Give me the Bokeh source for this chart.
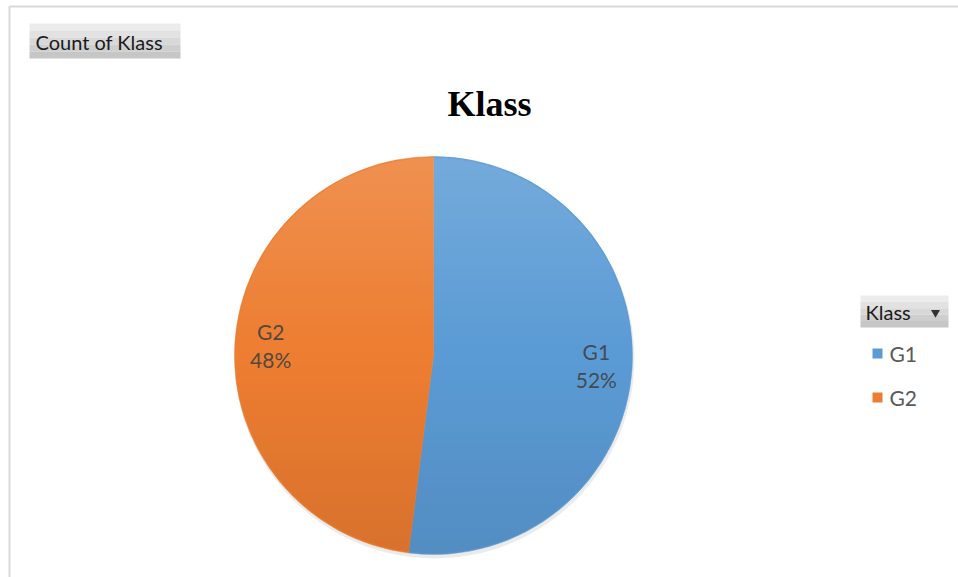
import numpy as np
from bokeh.plotting import figure
from bokeh.models import Range1d
from bokeh.core.properties import value
from bokeh.embed import file_html
from bokeh.resources import INLINE

# ---- data ----
categories = ["G1", "G2"]
shares = [52, 48]            # percent of Count of Klass
colors = ["#5B9BD5", "#ED7D31"]
title_text = "Klass"
field_button = "Count of Klass"
legend_title = "Klass"

W, H = 958, 577
p = figure(width=W, height=H, output_backend="svg", toolbar_location=None,
           x_range=Range1d(0, W), y_range=Range1d(0, H),
           min_border=0, outline_line_color=None)
p.axis.visible = False
p.grid.visible = False
p.background_fill_color = "white"
p.border_fill_color = "white"

def Y(py):
    return H - py

# chart area border (top & left visible)
p.quad(left=[9], right=[W + 20], top=[Y(6)], bottom=[-20],
       fill_color=None, line_color="#d9d9d9", line_width=2)

def button(l, r, t, b):
    steps = ["#ececec", "#e2e2e2", "#d8d8d8", "#cecece", "#c6c6c6"]
    h = (b - t) / len(steps)
    tops = [Y(t + i * h) for i in range(len(steps))]
    bots = [Y(t + (i + 1) * h) for i in range(len(steps))]
    p.quad(left=l, right=r, top=tops, bottom=bots, fill_color=steps, line_color=None)

# "Count of Klass" field button
button(29, 180, 23, 58)
p.text(x=[35], y=[Y(41)], text=[field_button], text_font=value("Lato"),
       text_font_size="20px", text_baseline="middle", text_align="left",
       text_color="#1a1a1a")

# title
p.text(x=[489], y=[Y(103)], text=[title_text], text_font=value("Liberation Serif"),
       text_font_style="bold", text_font_size="36px", text_baseline="middle",
       text_align="center", text_color="#000000")

# pie
cx, cy, R = 433, Y(355), 199
fr = np.array(shares, dtype=float) / sum(shares)
ends = np.pi / 2 - 2 * np.pi * np.cumsum(fr)
starts = np.concatenate([[np.pi / 2], ends[:-1]])

# soft shadow
p.circle(x=[cx + 1], y=[cy - 3], radius=R + 1, fill_color="#000000",
         fill_alpha=0.08, line_color=None)
p.wedge(x=cx, y=cy, radius=R, start_angle=starts, end_angle=ends,
        direction="clock", fill_color=colors, line_color=colors, line_width=0.5)

# vertical shading overlay (lighter top, darker bottom)
n = 2 * R
yy, xx = np.mgrid[0:n, 0:n]
dx = xx - R + 0.5
dy = yy - R + 0.5
inside = (dx ** 2 + dy ** 2) <= (R - 1) ** 2
t = 1 - yy / (n - 1)           # 0 at top, 1 at bottom (row 0 is bottom)
img = np.zeros((n, n, 4), dtype=np.uint8)
white = t < 0.5
a_white = np.clip(0.16 * (1 - 2 * t), 0, 1)
a_black = np.clip(0.09 * (2 * t - 1), 0, 1)
img[..., 0] = np.where(white, 255, 0)
img[..., 1] = np.where(white, 255, 0)
img[..., 2] = np.where(white, 255, 0)
img[..., 3] = (np.where(white, a_white, a_black) * 255 * inside).astype(np.uint8)
rgba = img.view(dtype=np.uint32).reshape((n, n))
p.image_rgba(image=[rgba], x=cx - R, y=cy - R, dw=n, dh=n)

# data labels
mids = (starts + ends) / 2
lr = 0.82 * R
lx = cx + lr * np.cos(mids)
ly = cy + lr * np.sin(mids)
p.text(x=lx, y=ly + 14, text=categories, text_font=value("Lato"),
       text_font_size="21px", text_baseline="middle", text_align="center",
       text_color="#404040", text_alpha=0.9)
p.text(x=lx, y=ly - 14, text=[f"{s}%" for s in shares], text_font=value("Lato"),
       text_font_size="21px", text_baseline="middle", text_align="center",
       text_color="#404040", text_alpha=0.9)

# legend field button
button(860, 948, 295, 327)
p.text(x=[865], y=[Y(311)], text=[legend_title], text_font=value("Lato"),
       text_font_size="20px", text_baseline="middle", text_align="left",
       text_color="#1a1a1a")
p.scatter(x=[935], y=[Y(312)], marker="inverted_triangle", size=9,
          fill_color="#333333", line_color=None)

# legend entries
ly_leg = [Y(353), Y(397)]
p.scatter(x=[877] * len(categories), y=ly_leg, marker="square", size=10,
          fill_color=colors, line_color=None)
p.text(x=[889] * len(categories), y=ly_leg, text=categories, text_font=value("Lato"),
       text_font_size="21px", text_baseline="middle", text_align="left",
       text_color="#595959")

open("out.html", "w").write(file_html(p, INLINE))
